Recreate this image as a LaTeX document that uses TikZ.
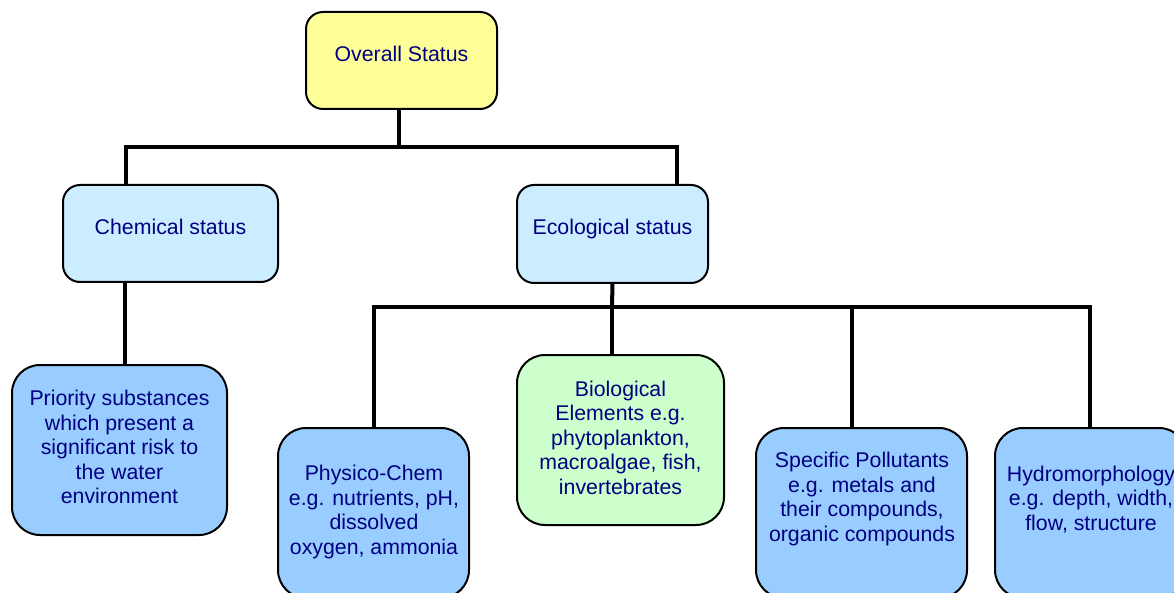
\documentclass[tikz,border=0pt]{standalone}
\usepackage{fontspec}
\setmainfont{Liberation Sans}
\definecolor{txtblue}{RGB}{0,0,128}
\definecolor{fyellow}{HTML}{FFFF99}
\definecolor{flight}{HTML}{CCECFF}
\definecolor{fblue}{HTML}{99CCFF}
\definecolor{fgreen}{HTML}{CCFFCC}
\begin{document}
\begin{tikzpicture}[x=1pt,y=-1pt,
  box/.style={draw=black, line width=2pt, rectangle, inner sep=0pt, outer sep=0pt},
  txt/.style={text=txtblue, align=center, inner sep=0pt, font=\fontsize{21.3}{24.5}\selectfont},
  conn/.style={draw=black, line width=4pt}]
\useasboundingbox (0,0) rectangle (1174,593);
\clip (0,0) rectangle (1174,593);
\fill[white] (0,0) rectangle (1174,593);
% boxes
\node[box, fill=fyellow, rounded corners=17pt, minimum width=191pt, minimum height=97pt] (overall) at (401.5,60.5) {};
\node[box, fill=flight, rounded corners=17pt, minimum width=215pt, minimum height=97pt] (chem) at (170.5,233.5) {};
\node[box, fill=flight, rounded corners=17pt, minimum width=191pt, minimum height=98pt] (eco) at (612.5,234) {};
\node[box, fill=fblue, rounded corners=28pt, minimum width=215pt, minimum height=170pt] (prio) at (119.5,450) {};
\node[box, fill=fblue, rounded corners=28pt, minimum width=191pt, minimum height=170pt] (phys) at (373.5,513) {};
\node[box, fill=fgreen, rounded corners=28pt, minimum width=207pt, minimum height=170pt] (bio) at (620.5,440) {};
\node[box, fill=fblue, rounded corners=28pt, minimum width=211pt, minimum height=170pt] (spec) at (861.5,513) {};
\node[box, fill=fblue, rounded corners=28pt, minimum width=192pt, minimum height=170pt] (hydro) at (1091,513) {};
% texts
\node[txt] (overall-t) at (401.5,54) {Overall Status};
\node[txt] (chem-t) at (170.5,227) {Chemical status};
\node[txt] (eco-t) at (612.5,228.5) {Ecological status};
\node[txt] (prio-t) at (119.5,447) {Priority substances\\which present a\\significant risk to\\the water\\environment};
\node[txt] (phys-t) at (374,512) {Physico-Chem\\e.g. nutrients, pH,\\dissolved\\oxygen, ammonia};
\node[txt] (bio-t) at (620.5,437.5) {Biological\\Elements e.g.\\phytoplankton,\\macroalgae, fish,\\invertebrates};
\node[txt] (spec-t) at (862,499) {Specific Pollutants\\e.g. metals and\\their compounds,\\organic compounds};
\node[txt] (hydro-t) at (1091,499.5) {Hydromorphology\\e.g. depth, width,\\flow, structure};
% bus coordinates
\coordinate (b1) at (399,147);
\coordinate (b1l) at (126,147);
\coordinate (b1r) at (677,147);
\coordinate (b2) at (612,307);
\coordinate (b2a) at (374,307);
\coordinate (b2b) at (612,307);
\coordinate (b2c) at (852,307);
\coordinate (b2d) at (1090,307);
\coordinate (pr) at (125,282);
% connectors
\draw[conn] (b1 |- overall.south) -- (b1);
\draw[conn, line cap=rect] (b1l) -- (b1r);
\draw[conn] (b1l) -- (b1l |- chem.north);
\draw[conn] (b1r) -- (b1r |- eco.north);
\draw[conn] (pr) -- (pr |- prio.north);
\draw[conn] (eco.south) -- (b2);
\draw[conn, line cap=rect] (b2a) -- (b2d);
\draw[conn] (b2a) -- (b2a |- phys.north);
\draw[conn] (b2b) -- (b2b |- bio.north);
\draw[conn] (b2c) -- (b2c |- spec.north);
\draw[conn] (b2d) -- (b2d |- hydro.north);
\end{tikzpicture}
\end{document}
